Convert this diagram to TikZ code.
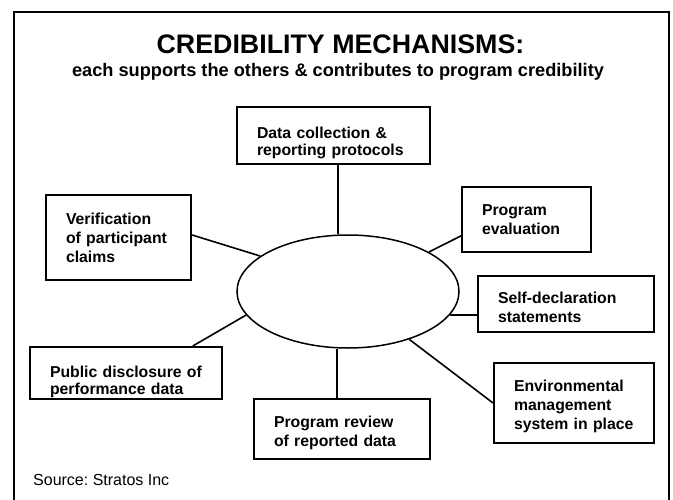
\documentclass[tikz,border=0pt]{standalone}
\usepackage{fontspec}
\setmainfont{Liberation Sans}
\frenchspacing
\usetikzlibrary{shapes.geometric}

\begin{document}
\begin{tikzpicture}
  [
    x=1pt, y=-1pt,
    box/.style={
      draw=black,
      line width=1.9pt,
      inner xsep=20pt,
      inner ysep=0pt,
      align=left,
      font=\fontsize{15.8}{19}\selectfont\bfseries
    },
    tight/.style={font=\fontsize{15.8}{17}\selectfont\bfseries},
    pad/.style={execute at begin node={\rule{0pt}{#1}}},
    link/.style={draw=black,line width=1.6pt}
  ]
  \useasboundingbox (0,0) rectangle (673,499);
  \draw [line width=2pt] (14,512) -- (14,12) -- (669,12) -- (669,512);

  \node (title) at (340.5,53) [anchor=base, inner sep=0pt,
    font=\fontsize{26.8}{32}\selectfont\bfseries] {CREDIBILITY MECHANISMS:};
  \node (subtitle) at (338,76) [anchor=base, inner sep=0pt,
    font=\fontsize{18.2}{22}\selectfont\bfseries]
    {each supports the others \& contributes to program credibility};

  \node (hub) at (348,291.5) [ellipse, draw, line width=1.5pt, inner sep=0pt,
    minimum width=222pt, minimum height=113pt] {};

  \node (collect) at (333.5,135.5) [box, tight, pad=25.5pt, text width=153pt, minimum height=57pt]
    {Data collection \&\\reporting protocols};
  \node (evaluate) at (526.5,219.5) [box, text width=89pt, minimum height=65pt]
    {Program\\evaluation};
  \node (verify) at (118.5,237.5) [box, text width=105pt, minimum height=85pt]
    {Verification\\of~participant\\claims};
  \node (declare) at (566,304) [box, pad=18.5pt, text width=136pt, minimum height=56pt]
    {Self-declaration\\statements};
  \node (disclose) at (126,373) [box, tight, pad=29.5pt, text width=152pt, minimum height=52pt]
    {Public~disclosure~of\\performance data};
  \node (ems) at (574,403) [box, pad=17.5pt, text width=120pt, minimum height=80pt]
    {Environmental\\management\\system~in~place};
  \node (review) at (342,429) [box, pad=18.5pt, text width=136pt, minimum height=60pt]
    {Program review\\of reported data};

  \draw [link] ([xshift=4.5pt]collect.south) -- ([xshift=4.5pt]collect.south |- hub.north);
  \draw [link] (verify.2) -- (hub.158);
  \draw [link] (hub.26) -- (evaluate.194);
  \draw [link] (hub.-13) -- (hub.-13 -| declare.west);
  \draw [link] (hub.-38) -- (ems.west);
  \draw [link] (hub.193) -- (disclose.22);
  \draw [link] ([xshift=-5pt]review.north) -- ([xshift=-5pt]review.north |- hub.south);

  \node (source) at (33,485) [anchor=base west, inner sep=0pt,
    font=\fontsize{16}{19}\selectfont] {Source: Stratos Inc};
\end{tikzpicture}
\end{document}
